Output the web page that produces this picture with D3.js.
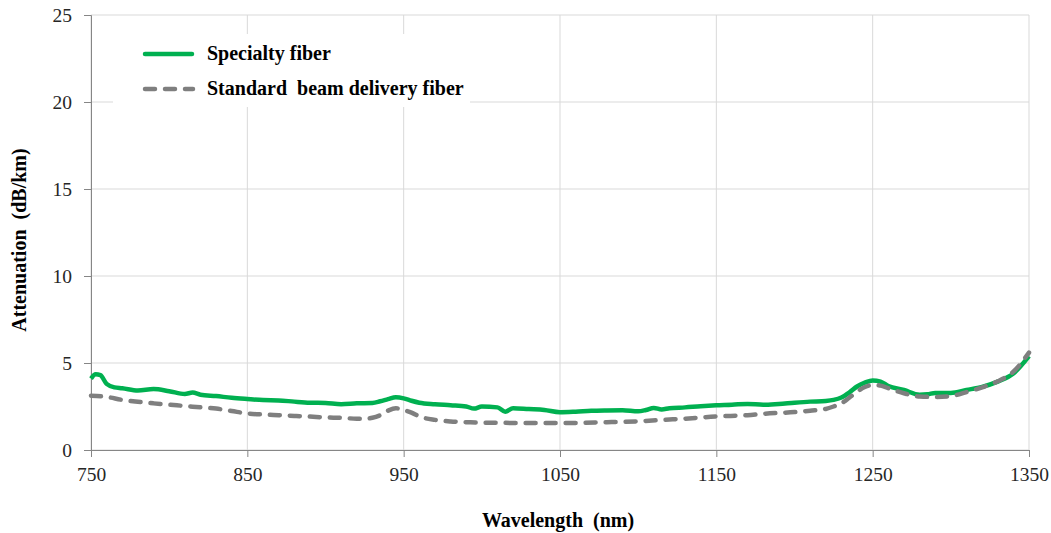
<!DOCTYPE html>
<html>
<head>
<meta charset="utf-8">
<script src="https://cdn.jsdelivr.net/npm/d3@7"></script>
<style>
  body { margin: 0; background: #fff; }
  svg { display: block; }
  .tick text { font-family: "Liberation Serif", "Times New Roman", serif; font-size: 19.5px; fill: #262626; }
  .title { font-family: "Liberation Serif", "Times New Roman", serif; font-size: 20px; font-weight: bold; fill: #000; white-space: pre; }
</style>
</head>
<body>
<svg id="chart" width="1051" height="533"></svg>
<script>
// wavelength (nm)
var wavelength = [750, 753, 756, 760, 765, 770, 780, 790, 800, 810, 815, 820, 830, 840, 850, 860, 870, 880, 890, 900,
  910, 920, 930, 935, 940, 945, 950, 955, 960, 970, 980, 990, 995, 1000, 1010, 1015, 1020, 1030, 1040, 1050,
  1060, 1070, 1080, 1090, 1100, 1105, 1110, 1115, 1120, 1130, 1140, 1150, 1160, 1170, 1180, 1190, 1200, 1210, 1220, 1225,
  1230, 1235, 1240, 1245, 1250, 1255, 1260, 1270, 1280, 1285, 1290, 1300, 1310, 1320, 1330, 1340, 1350];

var specialty = [4.1, 4.35, 4.3, 3.8, 3.6, 3.55, 3.42, 3.5, 3.38, 3.22, 3.3, 3.18, 3.1, 3.0, 2.93, 2.87, 2.85, 2.78, 2.72, 2.7,
  2.63, 2.68, 2.7, 2.8, 2.92, 3.03, 2.97, 2.83, 2.72, 2.63, 2.57, 2.5, 2.38, 2.5, 2.45, 2.2, 2.4, 2.35, 2.3, 2.17,
  2.2, 2.25, 2.27, 2.28, 2.22, 2.3, 2.42, 2.33, 2.4, 2.45, 2.52, 2.57, 2.6, 2.65, 2.6, 2.65, 2.72, 2.78, 2.82, 2.88,
  3.02, 3.3, 3.65, 3.87, 4.0, 3.93, 3.68, 3.45, 3.18, 3.2, 3.28, 3.28, 3.45, 3.63, 3.93, 4.4, 5.4];

var standardWl = [750, 760, 770, 780, 790, 800, 810, 820, 830, 840, 850, 860, 870, 880, 890, 900, 910, 920, 925, 930,
  935, 940, 945, 950, 955, 960, 970, 980, 990, 1000, 1010, 1020, 1050, 1080, 1100, 1120, 1130, 1150, 1170, 1180,
  1200, 1210, 1220, 1225, 1230, 1235, 1240, 1245, 1250, 1255, 1260, 1270, 1280, 1290, 1300, 1310, 1320, 1330, 1340, 1350];

var standard = [3.12, 3.05, 2.88, 2.77, 2.68, 2.6, 2.53, 2.45, 2.38, 2.24, 2.1, 2.04, 2.0, 1.96, 1.92, 1.87, 1.85, 1.8, 1.8, 1.85,
  2.0, 2.26, 2.4, 2.3, 2.15, 1.93, 1.73, 1.64, 1.6, 1.57, 1.57, 1.55, 1.55, 1.6, 1.65, 1.75, 1.8, 1.93, 2.0, 2.08,
  2.18, 2.26, 2.36, 2.5, 2.68, 3.0, 3.35, 3.62, 3.74, 3.7, 3.55, 3.26, 3.07, 3.05, 3.1, 3.33, 3.6, 3.95, 4.5, 5.6];

var xTicks = [750, 850, 950, 1050, 1150, 1250, 1350];
var yTicks = [0, 5, 10, 15, 20, 25];
var seriesNames = ["Specialty fiber", "Standard  beam delivery fiber"];

var svg = d3.select("#chart"),
    margin = { top: 15, right: 22, bottom: 83, left: 91 },
    width = +svg.attr("width") - margin.left - margin.right,
    height = +svg.attr("height") - margin.top - margin.bottom;

var x = d3.scaleLinear().domain([750, 1350]).range([0, width]);
var y = d3.scaleLinear().domain([0, 25]).range([height, 0]);

var g = svg.append("g")
  .attr("transform", "translate(" + margin.left + "," + margin.top + ")");

// gridlines
g.append("g").selectAll("line").data(yTicks).enter().append("line")
  .attr("x1", 0).attr("x2", width)
  .attr("y1", function(d) { return y(d); }).attr("y2", function(d) { return y(d); })
  .attr("stroke", "#d9d9d9").attr("stroke-width", 1);
g.append("g").selectAll("line").data(xTicks).enter().append("line")
  .attr("y1", 0).attr("y2", height)
  .attr("x1", function(d) { return x(d); }).attr("x2", function(d) { return x(d); })
  .attr("stroke", "#d9d9d9").attr("stroke-width", 1);

// axes
var xAxis = g.append("g")
  .attr("transform", "translate(0," + height + ")")
  .call(d3.axisBottom(x).tickValues(xTicks).tickSize(7).tickPadding(10).tickFormat(d3.format("d")));
var yAxis = g.append("g")
  .call(d3.axisLeft(y).tickValues(yTicks).tickSize(7).tickPadding(12));
[xAxis, yAxis].forEach(function(a) {
  a.select(".domain").attr("stroke", "#868686");
  a.selectAll(".tick line").attr("stroke", "#868686");
});

// legend background
g.append("rect")
  .attr("x", 22).attr("y", 19).attr("width", 357).attr("height", 73)
  .attr("fill", "#fff");

var lineSpec = d3.line()
  .x(function(d, i) { return x(wavelength[i]); })
  .y(function(d) { return y(d); })
  .curve(d3.curveMonotoneX);
var lineStd = d3.line()
  .x(function(d, i) { return x(standardWl[i]); })
  .y(function(d) { return y(d); })
  .curve(d3.curveMonotoneX);

g.append("path")
  .datum(specialty)
  .attr("d", lineSpec)
  .attr("fill", "none")
  .attr("stroke", "#00b050")
  .attr("stroke-width", 4.5)
  .attr("stroke-linejoin", "round");

g.append("path")
  .datum(standard)
  .attr("d", lineStd)
  .attr("fill", "none")
  .attr("stroke", "#7f7f7f")
  .attr("stroke-width", 4.5)
  .attr("stroke-linecap", "round")
  .attr("stroke-dasharray", "10,10");

// legend
var legend = g.append("g").attr("transform", "translate(52,39)");
legend.append("line").attr("x1", 2).attr("x2", 49).attr("y1", 0).attr("y2", 0)
  .attr("stroke", "#00b050").attr("stroke-width", 4.5).attr("stroke-linecap", "round");
legend.append("line").attr("x1", 2).attr("x2", 50).attr("y1", 35).attr("y2", 35)
  .attr("stroke", "#7f7f7f").attr("stroke-width", 4.5).attr("stroke-linecap", "round")
  .attr("stroke-dasharray", "10,10");
legend.selectAll("text").data(seriesNames).enter().append("text")
  .attr("class", "title")
  .attr("x", 64)
  .attr("y", function(d, i) { return i * 35 + 6; })
  .text(function(d) { return d; });

// axis titles
svg.append("text")
  .attr("class", "title")
  .attr("x", 558).attr("y", 527)
  .attr("text-anchor", "middle")
  .text("Wavelength  (nm)");

svg.append("text")
  .attr("class", "title")
  .attr("transform", "translate(26,240) rotate(-90)")
  .attr("text-anchor", "middle")
  .text("Attenuation  (dB/km)");
</script>
</body>
</html>
